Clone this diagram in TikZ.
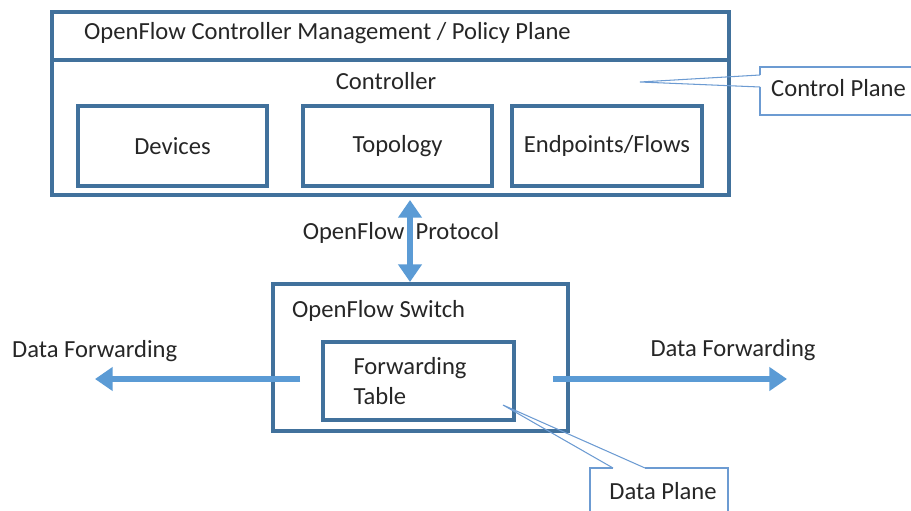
\documentclass[tikz,border=0pt]{standalone}
\usepackage{fontspec}
\setmainfont{Carlito}
\usetikzlibrary{arrows.meta}

\definecolor{boxblue}{HTML}{41719C}
\definecolor{arrowblue}{HTML}{5B9BD5}
\definecolor{calloutblue}{HTML}{6C9BD2}
\definecolor{txt}{HTML}{262626}

\begin{document}
\begin{tikzpicture}[x=0.02cm, y=-0.02cm,
    every node/.style={font=\fontsize{14}{17}\selectfont, text=txt},
    box/.style={draw=boxblue, line width=1.9pt, inner sep=0pt},
    bigarrow/.style={arrowblue, line width=3pt, -{Triangle[length=10pt,width=13pt]}},
    callout/.style={calloutblue, line width=0.6pt}]

    \useasboundingbox (0, 0) rectangle (911, 510);

    % controller side
    \node [box, minimum width=13.54cm, minimum height=0.96cm] (mgmt) at (390.5, 36) {};
    \node [anchor=west] (mgmtlabel) at (78, 33) {OpenFlow Controller Management / Policy Plane};
    \node [box, minimum width=13.54cm, minimum height=2.7cm] (ctrlbox) at (390.5, 127.5) {};
    \node (ctrl) at (386, 81) {Controller};

    \node [box, minimum width=3.78cm, minimum height=1.6cm] (dev) at (172.5, 146) {Devices};
    \node [box, minimum width=3.78cm, minimum height=1.6cm] (topo) at (397.5, 146) {Topology};
    \node [box, minimum width=3.8cm, minimum height=1.6cm] (ends) at (607, 146) {Endpoints/Flows};

    % switch side
    \node [box, minimum width=5.9cm, minimum height=2.94cm] (switch) at (420.5, 357.5) {};
    \node [anchor=west] (switchlabel) at (286, 311) {OpenFlow Switch};
    \node [box, minimum width=3.82cm, minimum height=1.56cm, text width=2.6cm, align=left]
        (table) at (418.5, 381) {Forwarding\\Table};

    % protocol
    \node (proto) at (401, 233) {OpenFlow\hspace{0.45em}Protocol};
    \coordinate (p1) at (410, 200);
    \coordinate (p2) at (410, 282);
    \draw [bigarrow, {Triangle[length=10pt,width=13pt]}-{Triangle[length=10pt,width=13pt]}]
        (p1) -- (p2);

    % data forwarding
    \node [anchor=west] (fwdl) at (6, 351) {Data Forwarding};
    \node (fwdr) at (733, 350) {Data Forwarding};
    \coordinate (l1) at (300, 379);
    \coordinate (l2) at (95, 379);
    \coordinate (r1) at (553, 379);
    \coordinate (r2) at (787, 379);
    \draw [bigarrow] (l1) -- (l2);
    \draw [bigarrow] (r1) -- (r2);

    % callouts
    \node [anchor=west] (cplane) at (765, 88) {Control Plane};
    \coordinate (ctip) at (640, 82);
    \draw [callout] (760, 75) -- (760, 67) -- (915, 67);
    \draw [callout] (760, 87) -- (760, 115) -- (915, 115);
    \draw [callout] (760, 75) -- (ctip) -- (760, 87);

    \node (dplane) at (663, 491) {Data Plane};
    \coordinate (dtip) at (503, 405);
    \draw [callout] (613, 468) -- (590, 468) -- (590, 515);
    \draw [callout] (645, 468) -- (728, 468) -- (728, 515);
    \draw [callout] (613, 468) -- (dtip) -- (645, 468);

\end{tikzpicture}
\end{document}
